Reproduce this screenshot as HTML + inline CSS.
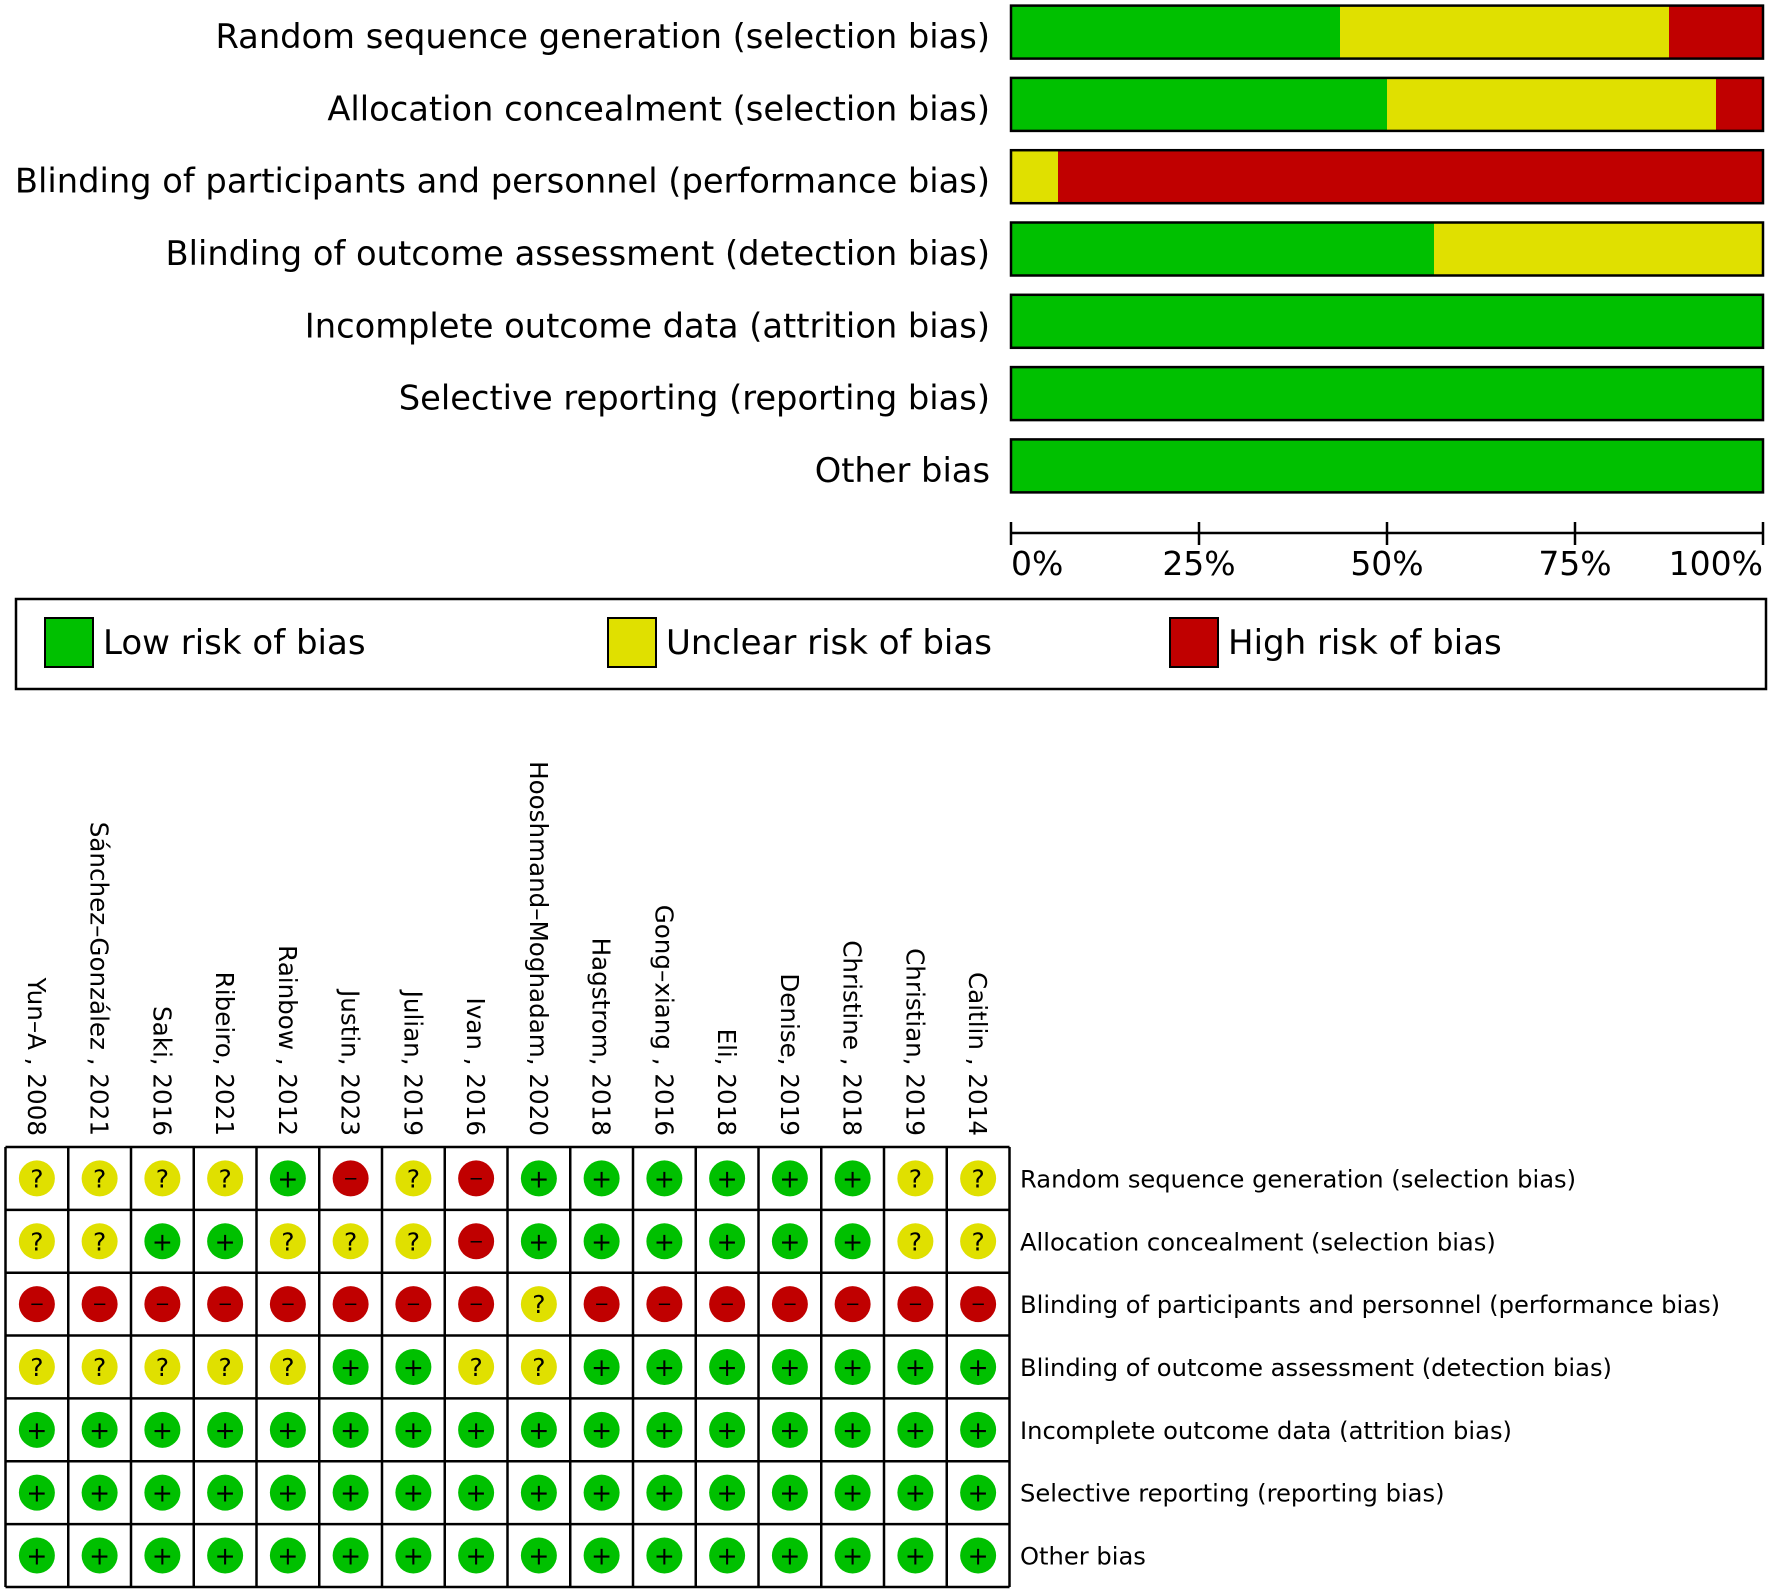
<!DOCTYPE html>
<html><head><meta charset="utf-8">
<style>
html,body{margin:0;padding:0;background:#fff;}
svg{display:block;font-family:"DejaVu Sans","Liberation Sans",sans-serif;}
</style></head>
<body>
<svg id="chart" width="1772" height="1591" viewBox="0 0 1772 1591" xmlns="http://www.w3.org/2000/svg">
<g id="summary"></g>
<g id="axis"></g>
<g id="legend">
  <rect x="16" y="599" width="1750" height="90" fill="#fff" stroke="#000" stroke-width="2.5"/>
  <rect x="45" y="618" width="48" height="49" fill="#00c000" stroke="#000" stroke-width="2"/>
  <text x="103" y="654" font-size="34">Low risk of bias</text>
  <rect x="608" y="618" width="48" height="49" fill="#e0e000" stroke="#000" stroke-width="2"/>
  <text x="666" y="654" font-size="34">Unclear risk of bias</text>
  <rect x="1170" y="618" width="48" height="49" fill="#c00000" stroke="#000" stroke-width="2"/>
  <text x="1228" y="654" font-size="34">High risk of bias</text>
</g>
<g id="grid"></g>
</svg>
<script>
const domains = ["Random sequence generation (selection bias)","Allocation concealment (selection bias)","Blinding of participants and personnel (performance bias)","Blinding of outcome assessment (detection bias)","Incomplete outcome data (attrition bias)","Selective reporting (reporting bias)","Other bias"];
const studies = ["Yun–A , 2008","Sánchez–González , 2021","Saki, 2016","Ribeiro, 2021","Rainbow , 2012","Justin, 2023","Julian, 2019","Ivan , 2016","Hooshmand–Moghadam, 2020","Hagstrom, 2018","Gong–xiang , 2016","Eli, 2018","Denise, 2019","Christine , 2018","Christian, 2019","Caitlin , 2014"];
const row1 = ["?","?","?","?","+","-","?","-","+","+","+","+","+","+","?","?"];
const row2 = ["?","?","+","+","?","?","?","-","+","+","+","+","+","+","?","?"];
const row3 = ["-","-","-","-","-","-","-","-","?","-","-","-","-","-","-","-"];
const row4 = ["?","?","?","?","?","+","+","?","?","+","+","+","+","+","+","+"];
const row5 = ["+","+","+","+","+","+","+","+","+","+","+","+","+","+","+","+"];
const row6 = ["+","+","+","+","+","+","+","+","+","+","+","+","+","+","+","+"];
const row7 = ["+","+","+","+","+","+","+","+","+","+","+","+","+","+","+","+"];
const judgments = [row1,row2,row3,row4,row5,row6,row7];
const tickLabels = ["0%","25%","50%","75%","100%"];
const tickValues = [0,0.25,0.5,0.75,1];

const NS="http://www.w3.org/2000/svg";
const COL={"+":"#00c000","?":"#e0e000","-":"#c00000"};
function mk(tag,attrs,parent){const e=document.createElementNS(NS,tag);for(const k in attrs)e.setAttribute(k,attrs[k]);parent.appendChild(e);return e;}
const X0=1011,X1=1763;
const xs=v=>X0+(X1-X0)*v;
const barY=i=>5.6+72.3*i;
const BH=53;
const summary=document.getElementById('summary');
domains.forEach((d,i)=>{
  const r=judgments[i];
  const n=r.length;
  const fr={"+":r.filter(v=>v==="+").length/n,"?":r.filter(v=>v==="?").length/n,"-":r.filter(v=>v==="-").length/n};
  let acc=0;
  ["+","?","-"].forEach(k=>{
    if(fr[k]>0){
      const rc=mk('rect',{x:xs(acc),y:barY(i),width:xs(acc+fr[k])-xs(acc),height:BH,fill:COL[k]},summary);
      
      
    }
    acc+=fr[k];
  });
  const ol=mk('rect',{x:X0,y:barY(i),width:X1-X0,height:BH,fill:'none',stroke:'#000','stroke-width':2.5},summary);
  
  
  const t=mk('text',{x:990,y:barY(i)+BH/2+16,'font-size':33.7,'text-anchor':'end'},summary);
  t.textContent=d;
  
  
});
const axis=document.getElementById('axis');
const al=mk('line',{x1:xs(0),x2:xs(1),y1:533,y2:533,stroke:'#000','stroke-width':2.5},axis);


tickValues.forEach((v,i)=>{
  const tk=mk('line',{x1:xs(v),x2:xs(v),y1:522,y2:545,stroke:'#000','stroke-width':2.5},axis);
  
  
  const anchor=i===0?'start':(i===tickValues.length-1?'end':'middle');
  const tl=mk('text',{x:xs(v),y:575,'font-size':33,'text-anchor':anchor},axis);
  tl.textContent=tickLabels[i];
  
  
});
const GX=5.5,GY=1147,CW=62.75,CH=62.85;
const grid=document.getElementById('grid');
studies.forEach((s,j)=>{
  const cx=GX+CW*(j+0.5);
  const t=mk('text',{x:0,y:0,'font-size':24.6,'text-anchor':'end',transform:`translate(${cx-9},1136) rotate(90)`},grid);
  t.textContent=s;
  
  
});
judgments.forEach((r,i)=>{
  const cy=GY+CH*(i+0.5);
  r.forEach((v,j)=>{
    const cx=GX+CW*(j+0.5);
    const c=mk('circle',{cx:cx,cy:cy,r:18,fill:COL[v]},grid);
    
    
    const sym=mk('text',{x:cx,y:cy+(v==="-"?6:9),'font-size':v==="-"?18:25,'text-anchor':'middle'},grid);
    sym.textContent=v==="-"?"−":v;
    
    
  });
  const t=mk('text',{x:1020,y:cy+9,'font-size':24.2},grid);
  t.textContent=domains[i];
  
  
});
for(let j=0;j<=studies.length;j++){
  const l=mk('line',{x1:GX+CW*j,x2:GX+CW*j,y1:GY,y2:GY+CH*judgments.length,stroke:'#000','stroke-width':2.5},grid);
  
  
}
for(let i=0;i<=judgments.length;i++){
  const l=mk('line',{x1:GX,x2:GX+CW*studies.length,y1:GY+CH*i,y2:GY+CH*i,stroke:'#000','stroke-width':2.5},grid);
  
  
}
</script>
</body></html>
